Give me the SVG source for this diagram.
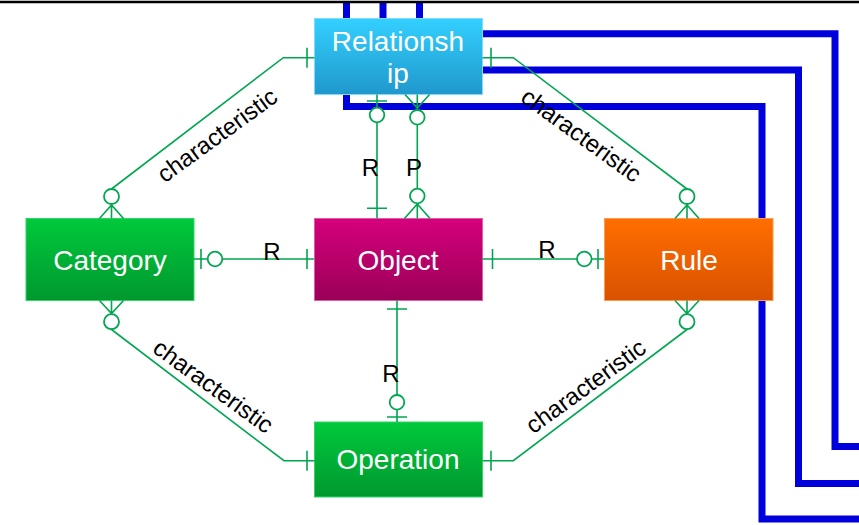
<svg xmlns="http://www.w3.org/2000/svg" width="859" height="525" viewBox="0 0 859 525">
<style>
.blue{fill:none;stroke:#0000dc;stroke-width:7;stroke-linejoin:miter;stroke-linecap:butt}
.c{fill:none;stroke:#00a651;stroke-width:1.6}
.o{fill:#fff;stroke:#00a651;stroke-width:1.8}
.nt{font-family:"Liberation Sans",Arial,sans-serif;font-size:28px;fill:#fff;text-anchor:middle}
.lb{font-family:"Liberation Sans",Arial,sans-serif;font-size:24px;fill:#000;text-anchor:middle}
</style>
<defs>
<linearGradient id="gRel" x1="0" y1="0" x2="0" y2="1"><stop offset="0" stop-color="#33d0ff"/><stop offset="1" stop-color="#1f98cc"/></linearGradient>
<linearGradient id="gGreen" x1="0" y1="0" x2="0" y2="1"><stop offset="0" stop-color="#00c93c"/><stop offset="1" stop-color="#00982e"/></linearGradient>
<linearGradient id="gObj" x1="0" y1="0" x2="0" y2="1"><stop offset="0" stop-color="#d6007c"/><stop offset="1" stop-color="#9a0058"/></linearGradient>
<linearGradient id="gRule" x1="0" y1="0" x2="0" y2="1"><stop offset="0" stop-color="#ff6e00"/><stop offset="1" stop-color="#d95200"/></linearGradient>
</defs>
<rect x="0" y="0" width="859" height="525" fill="#fff"/>
<g id="wires">
<path class="blue" d="M419.5,3 V33.7 H835 V446.5 H859"/>
<path class="blue" d="M383,3 V70 H798.5 V483.5 H859"/>
<path class="blue" d="M346.5,3 V106.5 H762 V519 H859"/>
</g>
<line x1="0" y1="2" x2="859" y2="2" stroke="#000" stroke-width="2.5"/>
<g id="relationship">
<rect x="314.5" y="18.5" width="168" height="76" fill="url(#gRel)" stroke="#7fdcff" stroke-width="1"/>
<text class="nt" x="398" y="50.5">Relationsh</text>
<text class="nt" x="398" y="82.5">ip</text>
</g>
<g id="category">
<rect x="26" y="218.5" width="168" height="82" fill="url(#gGreen)" stroke="#33d466" stroke-width="1"/>
<text class="nt" x="110" y="270">Category</text>
</g>
<g id="object">
<rect x="314.5" y="218.5" width="168" height="82" fill="url(#gObj)" stroke="#e05aa5" stroke-width="1"/>
<text class="nt" x="398" y="269.5">Object</text>
</g>
<g id="rule">
<rect x="604.5" y="218.5" width="168.5" height="82" fill="url(#gRule)" stroke="#ff9a4a" stroke-width="1"/>
<text class="nt" x="689" y="270">Rule</text>
</g>
<g id="operation">
<rect x="314.5" y="422" width="168" height="75" fill="url(#gGreen)" stroke="#33d466" stroke-width="1"/>
<text class="nt" x="398" y="469">Operation</text>
</g>
<g id="connectors">
<g>
<path class="c" d="M194,259 H314 M201,249 V269 M307,249 V269"/>
<circle class="o" cx="215" cy="259" r="7.3"/>
<text class="lb" x="272" y="260">R</text>
</g>
<g>
<path class="c" d="M482.5,259 H604 M492.5,249 V269 M598,249 V269"/>
<circle class="o" cx="584.3" cy="259" r="7.3"/>
<text class="lb" x="547" y="258">R</text>
</g>
<g>
<path class="c" d="M397,300.5 V422 M387,309 H407 M387,417 H407"/>
<circle class="o" cx="397" cy="402.3" r="7.3"/>
<text class="lb" x="391" y="382">R</text>
</g>
<g>
<path class="c" d="M377,94.5 V218.5 M367,101 H387 M367,208.3 H387"/>
<circle class="o" cx="377" cy="115" r="7.3"/>
<text class="lb" x="370.5" y="176">R</text>
</g>
<g>
<path class="c" d="M417.3,94.5 V218.5 M405,94.5 L417.3,108 L429.5,94.5 M404.5,218.5 L417.3,204 L430,218.5"/>
<circle class="o" cx="417.3" cy="117.3" r="7.3"/>
<circle class="o" cx="417.3" cy="196" r="7.3"/>
<text class="lb" x="414" y="176">P</text>
</g>
<g>
<path class="c" d="M314.5,57.7 H283.3 L111.5,189 V218.5 M307,47.7 V67.7 M99.5,218.5 L111.5,205 L123.5,218.5"/>
<circle class="o" cx="111.5" cy="196.5" r="7.5"/>
<text class="lb" transform="translate(218.5,137) rotate(-36)" x="0" y="6">characteristic</text>
</g>
<g>
<path class="c" d="M111.5,300.5 V329.5 L284,460.7 H314.5 M307,450.7 V470.7 M99.5,300.5 L111.5,313.5 L123.5,300.5"/>
<circle class="o" cx="111.5" cy="321.7" r="7.5"/>
<text class="lb" transform="translate(212,388) rotate(36)" x="0" y="6">characteristic</text>
</g>
<g>
<path class="c" d="M482.5,57.7 H513.3 L687,189 V218.5 M491,47.7 V67.7 M675,218.5 L687,205 L699,218.5"/>
<circle class="o" cx="687" cy="196.5" r="7.5"/>
<text class="lb" transform="translate(580,137) rotate(36)" x="0" y="6">characteristic</text>
</g>
<g>
<path class="c" d="M687,300.5 V329.5 L513.3,460.7 H482.5 M491,450.7 V470.7 M675,300.5 L687,313.5 L699,300.5"/>
<circle class="o" cx="687" cy="321.7" r="7.5"/>
<text class="lb" transform="translate(587,388) rotate(-36)" x="0" y="6">characteristic</text>
</g>
</g>
</svg>
